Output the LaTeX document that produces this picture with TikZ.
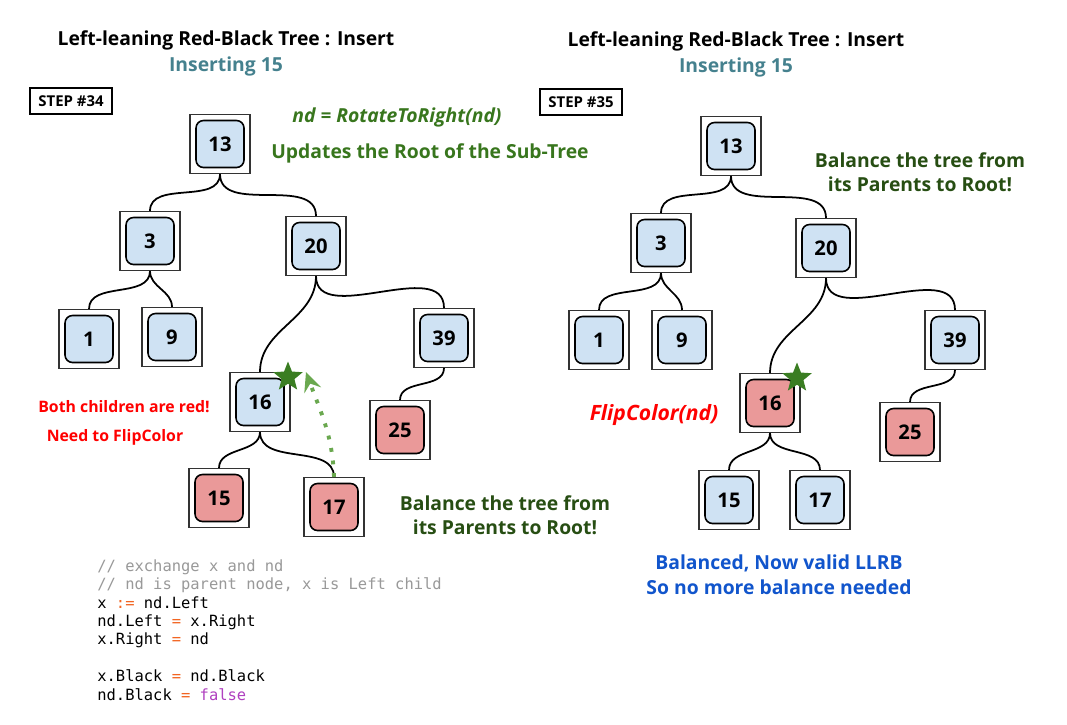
\documentclass[tikz,border=0pt]{standalone}
\usepackage{fontspec}
\setmainfont{Open Sans}
\newfontfamily\codefont{DejaVu Sans Mono}
\usetikzlibrary{shapes.geometric,arrows.meta}

\definecolor{keyblue}{HTML}{CFE2F3}
\definecolor{keyred}{HTML}{EA9999}
\definecolor{titleteal}{HTML}{45818E}
\definecolor{notegreen}{HTML}{38761D}
\definecolor{darkgreen}{HTML}{274E13}
\definecolor{starGreen}{HTML}{3A7D22}
\definecolor{dotgreen}{HTML}{6AA84F}
\definecolor{noteblue}{HTML}{1155CC}
\definecolor{codegray}{HTML}{999999}
\definecolor{codeop}{HTML}{F26522}
\definecolor{codekw}{HTML}{B040C0}

\tikzset{
  outerbox/.style={draw=black!80,line width=0.6pt,fill=white,minimum width=1.2cm,minimum height=1.18cm,inner sep=0pt},
  bluekey/.style={draw,line width=0.9pt,rounded corners=0.15cm,fill=keyblue,minimum width=0.96cm,minimum height=0.94cm,inner sep=0pt,font=\fontsize{11.5}{13}\selectfont\bfseries},
  redkey/.style={bluekey,fill=keyred},
  treeline/.style={line width=1pt,out=-90,in=90},
  stepbox/.style={draw,line width=0.8pt,minimum width=1.64cm,minimum height=0.52cm,inner sep=0pt,font=\fontsize{8.5}{10}\selectfont\bfseries},
  titletext/.style={font=\fontsize{11}{13}\selectfont\bfseries},
  notetext/.style={font=\fontsize{11}{14}\selectfont\bfseries},
  redtext/.style={font=\fontsize{9}{11}\selectfont\bfseries,text=red},
  greenstar/.style={star,star points=5,star point ratio=2.3,fill=starGreen,minimum size=0.62cm,inner sep=0pt}
}

\begin{document}
\begin{tikzpicture}[x=0.02cm,y=-0.02cm]
\fill[white] (0,0) rectangle (1067,724);

% left picture : step 34
\node[titletext] (ltitle) at (226,40) {Left-leaning Red-Black Tree : Insert};
\node[titletext,text=titleteal] (lsub) at (226,66) {Inserting 15};
\node[stepbox] (lstep) at (71,101) {STEP \#34};
\node[notetext,text=notegreen,font=\fontsize{11}{14}\selectfont\bfseries\itshape] (lrot) at (397,117) {nd = RotateToRight(nd)};
\node[notetext,text=notegreen] (lupd) at (430,153) {Updates the Root of the Sub-Tree};

\node[outerbox] (l13) at (220,144) {};
\node[bluekey] at (l13) {13};
\node[outerbox] (l3) at (150,241) {};
\node[bluekey] at (l3) {3};
\node[outerbox] (l20) at (316,246) {};
\node[bluekey] at (l20) {20};
\node[outerbox] (l1) at (89,339) {};
\node[bluekey] at (l1) {1};
\node[outerbox] (l9) at (172,337) {};
\node[bluekey] at (l9) {9};
\node[outerbox] (l39) at (444,338) {};
\node[bluekey] at (l39) {39};
\node[outerbox] (l16) at (260,402) {};
\node[bluekey] at (l16) {16};
\node[outerbox] (l25) at (400,430) {};
\node[redkey] at (l25) {25};
\node[outerbox] (l15) at (219,498) {};
\node[redkey] at (l15) {15};
\node[outerbox] (l17) at (334,507) {};
\node[redkey] at (l17) {17};

\draw[treeline] (l13.south) to (l3.north);
\draw[treeline] (l13.south) to (l20.north);
\draw[treeline] (l3.south) to (l1.north);
\draw[treeline] (l3.south) to (l9.north);
\draw[treeline] (l20.south) to (l16.north);
\draw[treeline] (l20.south) to (l39.north);
\draw[treeline] (l39.south) to (l25.north);
\draw[treeline] (l16.south) to (l15.north);
\draw[treeline] (l16.south) to (l17.north);

\node[greenstar] (lstar) at (288,377) {};
\coordinate (ltip) at (306,372);
\draw[dotgreen,line width=2.2pt,dash pattern=on 2.2pt off 5pt,-{Stealth[length=11pt,width=10pt,inset=4pt]}] (l17.north) to[out=92,in=-70] (ltip);

\node[redtext] (lboth) at (124,407) {Both children are red!};
\node[redtext] (lneed) at (115,437) {Need to FlipColor};
\node[notetext,text=darkgreen] (lbal1) at (505,503) {Balance the tree from};
\node[notetext,text=darkgreen] (lbal2) at (505,527) {its Parents to Root!};

\node[anchor=north west,align=left,inner sep=0pt,font=\codefont\fontsize{8.8}{10.5}\selectfont] (lcode) at (97,559) {%
\textcolor{codegray}{// exchange x and nd}\\
\textcolor{codegray}{// nd is parent node, x is Left child}\\
x \textcolor{codeop}{:=} nd.Left\\
nd.Left \textcolor{codeop}{=} x.Right\\
x.Right \textcolor{codeop}{=} nd\\
\mbox{}\\
x.Black \textcolor{codeop}{=} nd.Black\\
nd.Black \textcolor{codeop}{=} \textcolor{codekw}{false}};

% right picture : step 35
\node[titletext] (rtitle) at (736,41) {Left-leaning Red-Black Tree : Insert};
\node[titletext,text=titleteal] (rsub) at (736,67) {Inserting 15};
\node[stepbox] (rstep) at (581,102) {STEP \#35};
\node[notetext,text=darkgreen] (rbal1) at (920,160) {Balance the tree from};
\node[notetext,text=darkgreen] (rbal2) at (920,184) {its Parents to Root!};

\node[outerbox] (r13) at (731,146) {};
\node[bluekey] at (r13) {13};
\node[outerbox] (r3) at (661,243) {};
\node[bluekey] at (r3) {3};
\node[outerbox] (r20) at (826,248) {};
\node[bluekey] at (r20) {20};
\node[outerbox] (r1) at (599,340) {};
\node[bluekey] at (r1) {1};
\node[outerbox] (r9) at (682,340) {};
\node[bluekey] at (r9) {9};
\node[outerbox] (r39) at (955,340) {};
\node[bluekey] at (r39) {39};
\node[outerbox] (r16) at (770,403) {};
\node[redkey] at (r16) {16};
\node[outerbox] (r25) at (910,432) {};
\node[redkey] at (r25) {25};
\node[outerbox] (r15) at (729,500) {};
\node[bluekey] at (r15) {15};
\node[outerbox] (r17) at (820,500) {};
\node[bluekey] at (r17) {17};

\draw[treeline] (r13.south) to (r3.north);
\draw[treeline] (r13.south) to (r20.north);
\draw[treeline] (r3.south) to (r1.north);
\draw[treeline] (r3.south) to (r9.north);
\draw[treeline] (r20.south) to (r16.north);
\draw[treeline] (r20.south) to (r39.north);
\draw[treeline] (r39.south) to (r25.north);
\draw[treeline] (r16.south) to (r15.north);
\draw[treeline] (r16.south) to (r17.north);

\node[greenstar] (rstar) at (797,378) {};

\node[text=red,font=\fontsize{12}{14}\selectfont\bfseries\itshape] (rflip) at (654,415) {FlipColor(nd)};
\node[notetext,text=noteblue] (rdone1) at (779,563) {Balanced, Now valid LLRB};
\node[notetext,text=noteblue] (rdone2) at (779,587) {So no more balance needed};
\end{tikzpicture}
\end{document}
